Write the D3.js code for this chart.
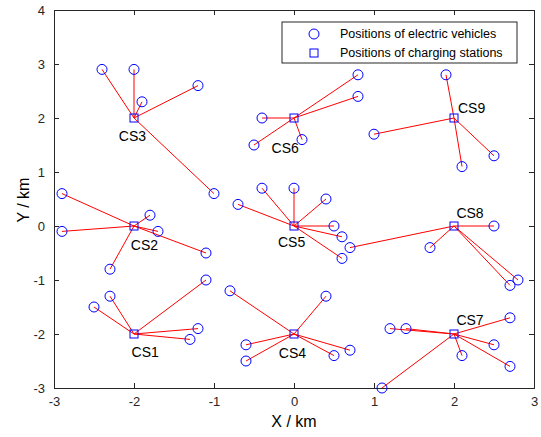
<!DOCTYPE html>
<meta charset="utf-8">
<style>
body { margin: 0; background: #fff; }
text { font-family: "Liberation Sans", Arial, sans-serif; fill: #000; }
.axis path, .axis line { stroke: #262626; }
.axis text { font-size: 13px; fill: #262626; }
</style>
<body>
<script src="https://cdn.jsdelivr.net/npm/d3@7"></script>
<script>
// charging stations
var stationNames = ["CS1", "CS2", "CS3", "CS4", "CS5", "CS6", "CS7", "CS8", "CS9"];
var stationX = [-2, -2, -2, 0, 0, 0, 2, 2, 2];
var stationY = [-2, 0, 2, -2, 0, 2, -2, 0, 2];
// where each label sits (data units)
var labelX = [-2.03, -2.04, -2.19, -0.19, -0.2, -0.28, 2.03, 2.03, 2.05];
var labelY = [-2.33, -0.36, 1.67, -2.35, -0.3, 1.44, -1.74, 0.24, 2.19];

// electric vehicles and the station each is assigned to (index into stations)
var evX = [-2.5, -2.3, -1.1, -1.2, -1.3,
           -2.9, -2.9, -1.8, -1.7, -1.1, -2.3,
           -2.4, -2.0, -1.9, -1.2, -1.0,
           -0.8, -0.6, -0.6, 0.4, 0.7, 0.5,
           -0.7, -0.4, 0.0, 0.4, 0.5, 0.6, 0.6,
           -0.4, -0.5, 0.1, 0.8, 0.8,
           1.1, 1.2, 1.4, 2.7, 2.5, 2.7, 2.1,
           0.7, 1.7, 2.5, 2.7, 2.8,
           1.0, 1.9, 2.1, 2.5];
var evY = [-1.5, -1.3, -1.0, -1.9, -2.1,
           0.6, -0.1, 0.2, -0.1, -0.5, -0.8,
           2.9, 2.9, 2.3, 2.6, 0.6,
           -1.2, -2.2, -2.5, -1.3, -2.3, -2.4,
           0.4, 0.7, 0.7, 0.5, 0.0, -0.2, -0.6,
           2.0, 1.5, 1.6, 2.8, 2.4,
           -3.0, -1.9, -1.9, -1.7, -2.2, -2.6, -2.4,
           -0.4, -0.4, 0.0, -1.1, -1.0,
           1.7, 2.8, 1.1, 1.3];
var evStation = [0, 0, 0, 0, 0,
                 1, 1, 1, 1, 1, 1,
                 2, 2, 2, 2, 2,
                 3, 3, 3, 3, 3, 3,
                 4, 4, 4, 4, 4, 4, 4,
                 5, 5, 5, 5, 5,
                 6, 6, 6, 6, 6, 6, 6,
                 7, 7, 7, 7, 7,
                 8, 8, 8, 8];

var xTicks = [-3, -2, -1, 0, 1, 2, 3];
var yTicks = [-3, -2, -1, 0, 1, 2, 3, 4];
var legendLabels = ["Positions of electric vehicles", "Positions of charging stations"];

var width = 541, height = 437;
var margin = {left: 54, right: 7, top: 10, bottom: 49};

var svg = d3.select("body").append("svg")
    .attr("width", width)
    .attr("height", height);

var x = d3.scaleLinear().domain([-3, 3]).range([margin.left, width - margin.right]);
var y = d3.scaleLinear().domain([-3, 4]).range([height - margin.bottom, margin.top]);

var stations = stationNames.map(function(n, i) {
  return {name: n, x: stationX[i], y: stationY[i], lx: labelX[i], ly: labelY[i]};
});
var evs = evX.map(function(v, i) {
  return {x: v, y: evY[i], s: stations[evStation[i]]};
});

// frame and axes, ticks pointing inward
svg.append("g").attr("class", "axis")
    .attr("transform", "translate(0," + y(-3) + ")")
    .call(d3.axisBottom(x).tickValues(xTicks).tickSize(-5).tickPadding(9).tickFormat(d3.format("d")));
svg.append("g").attr("class", "axis")
    .attr("transform", "translate(0," + y(4) + ")")
    .call(d3.axisTop(x).tickValues(xTicks).tickSize(-5).tickFormat(""));
svg.append("g").attr("class", "axis")
    .attr("transform", "translate(" + x(-3) + ",0)")
    .call(d3.axisLeft(y).tickValues(yTicks).tickSize(-5).tickPadding(9).tickFormat(d3.format("d")));
svg.append("g").attr("class", "axis")
    .attr("transform", "translate(" + x(3) + ",0)")
    .call(d3.axisRight(y).tickValues(yTicks).tickSize(-5).tickFormat(""));
svg.selectAll(".axis .domain").attr("stroke-width", 1);
svg.selectAll(".axis text").text(function() {
  return this.textContent.replace("\u2212", "-");
});

// connection lines
svg.append("g").selectAll("line")
    .data(evs)
  .enter().append("line")
    .attr("x1", function(d) { return x(d.s.x); })
    .attr("y1", function(d) { return y(d.s.y); })
    .attr("x2", function(d) { return x(d.x); })
    .attr("y2", function(d) { return y(d.y); })
    .attr("stroke", "#ff0000")
    .attr("stroke-width", 1);

// vehicles
svg.append("g").selectAll("circle")
    .data(evs)
  .enter().append("circle")
    .attr("cx", function(d) { return x(d.x); })
    .attr("cy", function(d) { return y(d.y); })
    .attr("r", 5)
    .attr("fill", "none")
    .attr("stroke", "#0000ff")
    .attr("stroke-width", 1);

// stations
svg.append("g").selectAll("rect")
    .data(stations)
  .enter().append("rect")
    .attr("x", function(d) { return x(d.x) - 4; })
    .attr("y", function(d) { return y(d.y) - 4; })
    .attr("width", 8)
    .attr("height", 8)
    .attr("fill", "none")
    .attr("stroke", "#0000ff")
    .attr("stroke-width", 1);

svg.append("g").selectAll("text")
    .data(stations)
  .enter().append("text")
    .attr("x", function(d) { return x(d.lx); })
    .attr("y", function(d) { return y(d.ly); })
    .attr("dy", "0.35em")
    .attr("font-size", "14px")
    .text(function(d) { return d.name; });

// axis titles
svg.append("text")
    .attr("x", x(0))
    .attr("y", height - 10)
    .attr("text-anchor", "middle")
    .attr("font-size", "16px")
    .text("X / km");
svg.append("text")
    .attr("transform", "translate(23," + y(0.48) + ")rotate(-90)")
    .attr("text-anchor", "middle")
    .attr("dy", "0.35em")
    .attr("font-size", "16px")
    .text("Y / km");

// legend
var lg = svg.append("g").attr("transform", "translate(282,22)");
lg.append("rect")
    .attr("width", 235)
    .attr("height", 41)
    .attr("fill", "#fff")
    .attr("stroke", "#262626")
    .attr("stroke-width", 1);
lg.append("circle")
    .attr("cx", 32).attr("cy", 12).attr("r", 5)
    .attr("fill", "none").attr("stroke", "#0000ff");
lg.append("rect")
    .attr("x", 28).attr("y", 27).attr("width", 8).attr("height", 8)
    .attr("fill", "none").attr("stroke", "#0000ff");
lg.selectAll("text.lab")
    .data(legendLabels)
  .enter().append("text")
    .attr("class", "lab")
    .attr("x", 58)
    .attr("y", function(d, i) { return 12 + i * 19; })
    .attr("dy", "0.35em")
    .attr("font-size", "12.5px")
    .text(function(d) { return d; });
</script>
</body>
